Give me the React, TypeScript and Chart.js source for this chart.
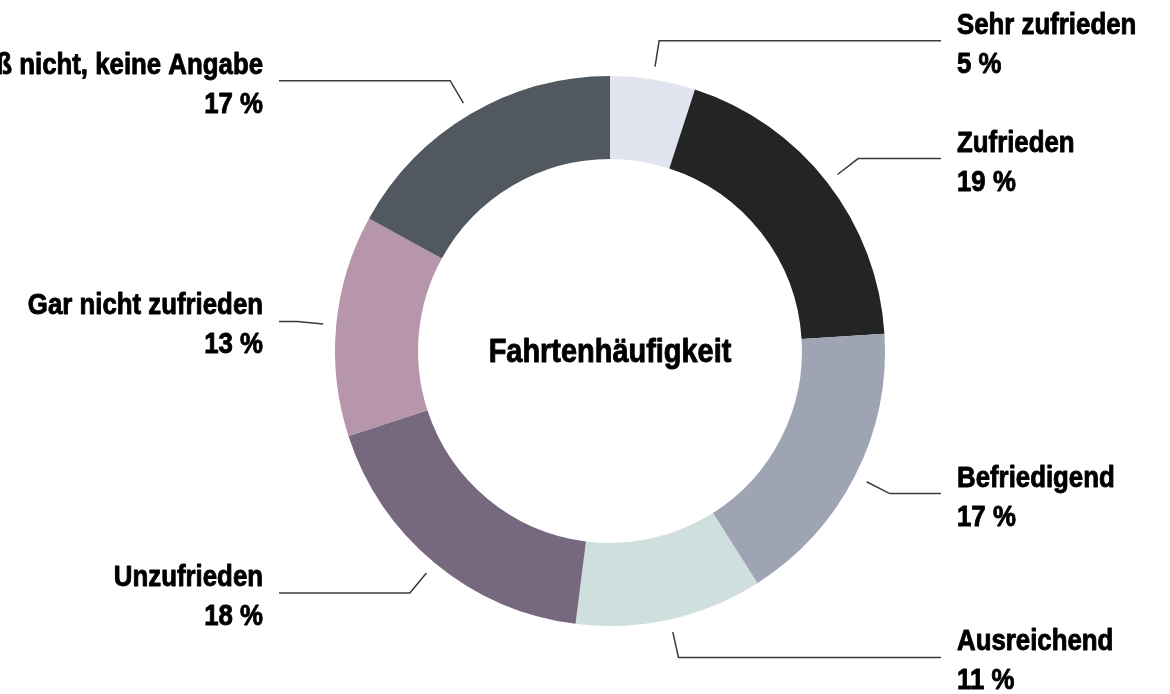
import React, { useEffect, useRef } from "react";
import { Chart, registerables } from "chart.js";

Chart.register(...registerables);

const categories: string[] = [
  "Sehr zufrieden",
  "Zufrieden",
  "Befriedigend",
  "Ausreichend",
  "Unzufrieden",
  "Gar nicht zufrieden",
  "Weiß nicht, keine Angabe",
];
const shares: number[] = [5, 19, 17, 11, 18, 13, 17];
const segmentColors: string[] = [
  "#e1e3ee",
  "#222524",
  "#9ea4b4",
  "#cfdfdd",
  "#76687e",
  "#b795ab",
  "#515860",
];
const centerTitle = "Fahrtenhäufigkeit";

const LABEL_FONT = "'Liberation Sans', Arial, sans-serif";
const CONDENSE = 0.89;

function drawCondensed(
  ctx: CanvasRenderingContext2D,
  text: string,
  x: number,
  y: number,
  align: CanvasTextAlign
) {
  ctx.save();
  ctx.translate(x, y);
  ctx.scale(CONDENSE, 1);
  ctx.textAlign = align;
  ctx.textBaseline = "alphabetic";
  ctx.lineJoin = "round";
  ctx.lineWidth = 0.9;
  ctx.strokeStyle = ctx.fillStyle as string;
  ctx.fillText(text, 0, 0);
  ctx.strokeText(text, 0, 0);
  ctx.restore();
}

const leaderPlugin = {
  id: "leaderLabels",
  afterDraw(chart: any) {
    const ctx: CanvasRenderingContext2D = chart.ctx;
    const meta = chart.getDatasetMeta(0);
    const values: number[] = chart.data.datasets[0].data;
    const labels: string[] = chart.data.labels;
    ctx.save();
    meta.data.forEach((arc: any, i: number) => {
      const { x, y, startAngle, endAngle, outerRadius } = arc.getProps(
        ["x", "y", "startAngle", "endAngle", "outerRadius"],
        true
      );
      const mid = (startAngle + endAngle) / 2;
      const c = Math.cos(mid);
      const s = Math.sin(mid);
      const r1 = outerRadius + 13;
      const r2 = outerRadius + 39;
      const right = c >= 0;
      const p1x = x + r1 * c;
      const p1y = y + r1 * s;
      const p2x = x + r2 * c;
      const p2y = y + r2 * s;
      const endX = right ? x + outerRadius + 56 : x - outerRadius - 56;
      ctx.beginPath();
      ctx.strokeStyle = "#3a3a3a";
      ctx.lineWidth = 1.5;
      ctx.moveTo(p1x, p1y);
      ctx.lineTo(p2x, p2y);
      ctx.lineTo(endX, p2y);
      ctx.stroke();

      ctx.fillStyle = "#000000";
      ctx.font = `bold 29px ${LABEL_FONT}`;
      const tx = right ? endX + 16 : endX - 16;
      const align: CanvasTextAlign = right ? "left" : "right";
      drawCondensed(ctx, labels[i], tx, p2y - 7, align);
      drawCondensed(ctx, `${values[i]} %`, tx, p2y + 32, align);
    });

    ctx.font = `bold 32.5px ${LABEL_FONT}`;
    ctx.fillStyle = "#000000";
    const cx = meta.data[0].x;
    const cy = meta.data[0].y;
    drawCondensed(ctx, centerTitle, cx, cy + 11, "center");
    ctx.restore();
  },
};

export default function App() {
  const canvasRef = useRef<HTMLCanvasElement | null>(null);

  useEffect(() => {
    if (!canvasRef.current) return;
    const chart = new Chart(canvasRef.current, {
      type: "doughnut",
      data: {
        labels: categories,
        datasets: [
          {
            data: shares,
            backgroundColor: segmentColors,
            borderWidth: 0,
            hoverOffset: 0,
          },
        ],
      },
      options: {
        animation: false,
        responsive: true,
        maintainAspectRatio: false,
        cutout: "69.8%",
        rotation: 0,
        layout: {
          padding: { top: 76, bottom: 68, left: 335, right: 285 },
        },
        plugins: {
          legend: { display: false },
          tooltip: { enabled: false },
        },
        events: [],
      },
      plugins: [leaderPlugin],
    });
    return () => chart.destroy();
  }, []);

  return (
    <div
      style={{
        position: "fixed",
        left: 0,
        top: 0,
        width: 1170,
        height: 694,
        background: "#ffffff",
      }}
    >
      <canvas ref={canvasRef} />
    </div>
  );
}
